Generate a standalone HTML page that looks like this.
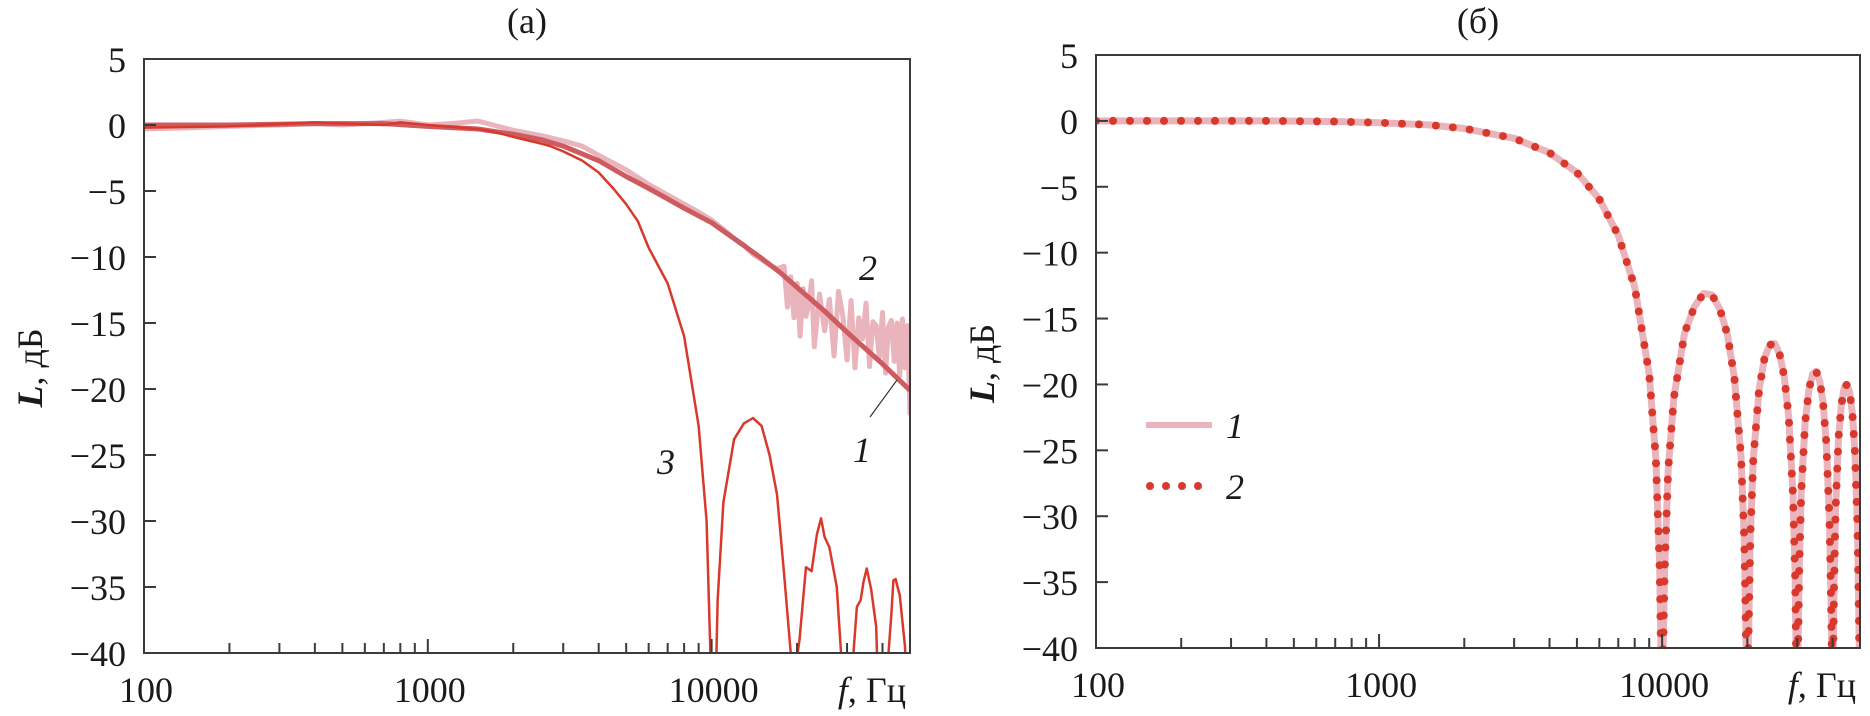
<!DOCTYPE html>
<html><head><meta charset="utf-8">
<style>
html,body{margin:0;padding:0;background:#fff;width:1870px;height:716px;overflow:hidden;}
svg{display:block;font-family:"Liberation Serif","DejaVu Serif",serif;}
</style></head>
<body>
<svg id="chart" width="1870" height="716" viewBox="0 0 1870 716" xmlns="http://www.w3.org/2000/svg">
<defs>
<clipPath id="clipA"><rect x="144" y="59" width="766" height="594"/></clipPath>
<clipPath id="clipB"><rect x="1096" y="55" width="764" height="593"/></clipPath>
</defs>
<g id="panelA"></g>
<g id="panelB"></g>
</svg>
<script>
// ---------- data: panel (a) ----------
const a1F = [100,200,400,700,1000,1500,2000,2500,3000,4000,5000,6000,7000,8000,10000,12000,15000,17500,20000,25000,30000,40000,50000];
const a1L = [0,0,0.1,0.1,-0.1,-0.3,-0.7,-1.1,-1.6,-2.7,-3.9,-4.8,-5.6,-6.3,-7.4,-8.6,-10.1,-11.2,-12.3,-14.1,-15.7,-18.1,-20.1];
const a2F = [100,150,200,300,400,500,700,800,1000,1200,1500,1700,2000,2500,3000,3500,4000,5000,6000,7000,8000,9000,10000,11000,12000,13000,14000,15000,16000,17000,18000,18500,19000,19500,20000,20500,21000,21500,22000,22500,23000,24000,25000,26000,27000,28000,29000,30000,31000,32000,33000,34000,35000,36000,37000,38000,39000,40000,41000,42000,43000,44000,45000,46000,47000,48000,49000,50000];
const a2L = [-0.3,-0.2,-0.1,0,0.1,0,0.2,0.3,0,0.1,0.3,0,-0.4,-0.8,-1.2,-1.6,-2.3,-3.4,-4.5,-5.3,-6,-6.6,-7.2,-7.9,-8.6,-9.1,-9.8,-10.2,-10.6,-10.9,-10.7,-13.8,-11.5,-14.6,-12,-16,-12.4,-14.5,-13.6,-11.8,-16.8,-12.8,-15.6,-13.2,-17.5,-12.6,-14.5,-17.8,-13.3,-18.4,-14.6,-16.2,-13.5,-18.3,-14.9,-15.2,-17.6,-14.2,-18.8,-15.3,-14.8,-17.9,-15,-19,-14.7,-18.4,-15.2,-22];
const a3F = [100,200,400,700,800,1000,1500,1700,2000,2500,2700,3000,3500,4000,4500,5000,5500,6000,7000,8000,9000,9600,9900,10100,10300,10500,11000,12000,13000,14000,15000,16000,17000,18000,19000,19500,20400,21500,22500,23500,24300,25000,26000,27600,28500,29000,31600,32500,33500,34300,35200,36500,38000,38500,42000,43000,43700,44500,45200,46000,48000,48500,50000];
const a3L = [-0.2,-0.1,0.2,0,0.2,0,-0.3,-0.5,-0.9,-1.4,-1.6,-2,-2.7,-3.6,-4.8,-6,-7.3,-9.3,-12,-16,-22.8,-30,-40,-44,-44,-36,-28.6,-23.8,-22.6,-22.2,-22.8,-25,-28,-34,-40,-42,-39,-33.5,-33.8,-31,-29.8,-31.2,-32,-35,-39.6,-42,-40,-36.5,-36,-34.6,-33.6,-35.2,-38,-42,-40,-37,-34.5,-34.4,-35,-35.6,-39.5,-42,-42];
// ---------- data: panel (b) ----------
const bF = [100,200,400,700,1000,1500,2000,3000,4000,5000,6000,7000,8000,9000,9500,9800,9900,9990,10010,10200,10500,11000,12000,13000,14000,15000,16000,17000,18000,19000,19500,19800,19990,20010,20200,20500,21000,22000,23000,24000,25000,26000,27000,28000,29000,29500,29800,29990,30010,30300,30500,31000,32000,33000,34000,35000,36000,37000,38000,39000,39500,39990,40010,40500,41000,42000,43000,44000,45000,46000,47000,48000,49000,49500,49990];
const bL = [0,0,0,-0.05,-0.14,-0.3,-0.58,-1.32,-2.42,-3.92,-5.94,-8.69,-12.6,-19.2,-25.6,-33.8,-39.9,-44,-44,-34.2,-26.5,-21,-16.1,-14.1,-13.1,-13.2,-14.3,-16.2,-19.5,-25.5,-31.7,-39.7,-44,-44,-39,-31.3,-25.6,-20.4,-18,-17,-16.9,-17.7,-19.4,-22.5,-28.4,-34.5,-42,-44,-44,-38.3,-33.9,-28.2,-22.9,-20.4,-19.2,-19,-19.7,-21.3,-24.4,-30.2,-36.2,-44,-44,-35.2,-29.4,-24,-21.5,-20.2,-20,-20.6,-22.2,-25.2,-30.9,-37,-44];
const yTicks = [5,0,-5,-10,-15,-20,-25,-30,-35,-40];
const yTickLabels = ["5","0","\u22125","\u221210","\u221215","\u221220","\u221225","\u221230","\u221235","\u221240"];
const xMajor = [100,1000,10000];
const xMajorLabels = ["100","1000","10000"];
const xMinor = [200,300,400,500,600,700,800,900,2000,3000,4000,5000,6000,7000,8000,9000,20000,30000,40000];

const NS = "http://www.w3.org/2000/svg";
function mk(tag, attrs, parent){
  const e = document.createElementNS(NS, tag);
  for (const k in attrs) e.setAttribute(k, attrs[k]);
  parent.appendChild(e);
  return e;
}
function makeAxes(left, right, top, bottom){
  const lmin = Math.log10(100), lmax = Math.log10(50000);
  return {
    sx: f => left + (Math.log10(f) - lmin) / (lmax - lmin) * (right - left),
    sy: v => top + (5 - v) / 45 * (bottom - top),
    left, right, top, bottom
  };
}
function pathD(ax, F, L){
  let d = "";
  for (let i = 0; i < F.length; i++){
    d += (i ? "L" : "M") + ax.sx(F[i]).toFixed(2) + "," + ax.sy(L[i]).toFixed(2);
  }
  return d;
}
function drawFrame(g, ax, title, titleName){
  const fr = mk("rect", {x: ax.left, y: ax.top, width: ax.right - ax.left, height: ax.bottom - ax.top, fill: "none", stroke: "#3a3a3a", "stroke-width": 2}, g);
  
  
  yTicks.forEach((v, i) => {
    const y = ax.sy(v);
    if (i > 0 && i < yTicks.length - 1){
      const t = mk("line", {x1: ax.left, x2: ax.left + 12, y1: y, y2: y, stroke: "#3a3a3a", "stroke-width": 2}, g);
      
      
    }
    const lb = mk("text", {x: ax.left - 18, y: y + 13, "text-anchor": "end", "font-size": 36, fill: "#1a1a1a"}, g);
    lb.textContent = yTickLabels[i];
    
    
  });
  xMinor.forEach(f => {
    const x = ax.sx(f);
    const t = mk("line", {x1: x, x2: x, y1: ax.bottom, y2: ax.bottom - 10, stroke: "#3a3a3a", "stroke-width": 2}, g);
    
    
  });
  xMajor.forEach((f, i) => {
    const x = ax.sx(f);
    const t = mk("line", {x1: x, x2: x, y1: ax.bottom, y2: ax.bottom - 14, stroke: "#3a3a3a", "stroke-width": 2}, g);
    
    
    const lb = mk("text", {x: x + 2, y: ax.bottom + 49, "text-anchor": "middle", "font-size": 36, fill: "#1a1a1a"}, g);
    lb.textContent = xMajorLabels[i];
    
    
  });
  const xt = mk("text", {x: ax.right - 4, y: ax.bottom + 49, "text-anchor": "end", "font-size": 36, fill: "#1a1a1a"}, g);
  xt.innerHTML = '<tspan font-style="italic">f</tspan>, Гц';
  
  
  const cy = (ax.top + ax.bottom) / 2 + 12;
  const yt = mk("text", {x: 0, y: 0, "text-anchor": "middle", "font-size": 36, fill: "#1a1a1a", transform: "translate(" + (ax.left - 102) + "," + cy + ") rotate(-90)"}, g);
  yt.innerHTML = '<tspan font-style="italic" font-weight="bold">L</tspan>, дБ';
  
  
  const tt = mk("text", {x: (ax.left + ax.right) / 2, y: 33, "text-anchor": "middle", "font-size": 36, fill: "#1a1a1a"}, g);
  tt.textContent = title;
  
  
}

// ---------- panel (a) ----------
const gA = document.getElementById("panelA");
const axA = makeAxes(144, 910, 59, 653);
const gAc = mk("g", {"clip-path": "url(#clipA)"}, gA);


const pa2 = mk("path", {d: pathD(axA, a2F, a2L), fill: "none", stroke: "#eab4bc", "stroke-width": 5, "stroke-linejoin": "round"}, gAc);


const pa1 = mk("path", {d: pathD(axA, a1F, a1L), fill: "none", stroke: "#cc5c60", "stroke-width": 5, "stroke-linejoin": "round"}, gAc);


const pa3 = mk("path", {d: pathD(axA, a3F, a3L), fill: "none", stroke: "#d8392c", "stroke-width": 2.5, "stroke-linejoin": "round"}, gAc);


drawFrame(gA, axA, "(а)", "panel-a-title");
[["2", 868, 280, 'curve-2-label'], ["1", 862, 462, 'curve-1-label'], ["3", 666, 474, 'curve-3-label']].forEach(c => {
  const t = mk("text", {x: c[1], y: c[2], "text-anchor": "middle", "font-size": 36, "font-style": "italic", fill: "#1a1a1a"}, gA);
  t.textContent = c[0];
  
  
});
const leader = mk("line", {x1: 897, y1: 380, x2: 870, y2: 417, stroke: "#333", "stroke-width": 1.2}, gA);



// ---------- panel (b) ----------
const gB = document.getElementById("panelB");
const axB = makeAxes(1096, 1860, 55, 648);
const gBc = mk("g", {"clip-path": "url(#clipB)"}, gB);


const pb1 = mk("path", {d: pathD(axB, bF, bL), fill: "none", stroke: "#eab4bc", "stroke-width": 7, "stroke-linejoin": "round"}, gBc);


const pb2 = mk("path", {d: pathD(axB, bF, bL), fill: "none", stroke: "#d8392c", "stroke-width": 8, "stroke-linecap": "round", "stroke-dasharray": "0 17"}, gBc);


drawFrame(gB, axB, "(б)", "panel-b-title");
const lg1 = mk("line", {x1: 1146, x2: 1212, y1: 425, y2: 425, stroke: "#eab4bc", "stroke-width": 6}, gB);


const lg2 = mk("line", {x1: 1150, x2: 1212, y1: 486, y2: 486, stroke: "#d8392c", "stroke-width": 8, "stroke-linecap": "round", "stroke-dasharray": "0 16"}, gB);


[["1", 425, 'legend-1-label'], ["2", 486, 'legend-2-label']].forEach(c => {
  const t = mk("text", {x: 1226, y: c[1] + 13, "font-size": 36, "font-style": "italic", fill: "#1a1a1a"}, gB);
  t.textContent = c[0];
  
  
});
</script>
</body></html>
